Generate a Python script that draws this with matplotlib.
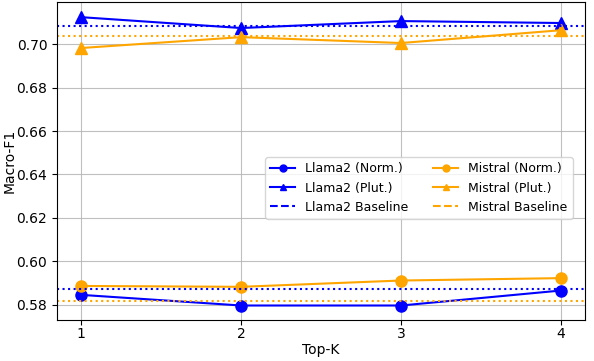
import matplotlib
matplotlib.use("Agg")
import matplotlib.pyplot as plt
from matplotlib.lines import Line2D

top_k = [1, 2, 3, 4]
llama_norm = [0.5846, 0.5797, 0.5797, 0.5866]
llama_plut = [0.7124, 0.7074, 0.7106, 0.7097]
mistral_norm = [0.5887, 0.5883, 0.5912, 0.5923]
mistral_plut = [0.6982, 0.7032, 0.7005, 0.7064]
llama_base = [0.5872, 0.7083]
mistral_base = [0.5820, 0.7037]

fig = plt.figure(figsize=(5.94, 3.61), dpi=100)
ax = fig.add_axes([0.096, 0.114, 0.889, 0.880])

ax.plot(top_k, llama_norm, color="blue", marker="o", markersize=8, linewidth=1.5)
ax.plot(top_k, llama_plut, color="blue", marker="^", markersize=8, linewidth=1.5)
ax.plot(top_k, mistral_norm, color="orange", marker="o", markersize=8, linewidth=1.5)
ax.plot(top_k, mistral_plut, color="orange", marker="^", markersize=8, linewidth=1.5)
for v in llama_base:
    ax.axhline(v, color="blue", linestyle=":", linewidth=1.5)
for v in mistral_base:
    ax.axhline(v, color="orange", linestyle=":", linewidth=1.5)

ax.set_xticks(top_k)
ax.set_yticks([0.58, 0.60, 0.62, 0.64, 0.66, 0.68, 0.70])
ax.set_ylim(0.5731, 0.7193)
ax.set_xlim(0.85, 4.15)
ax.tick_params(labelsize=10)
ax.tick_params(axis="x", pad=2)
ax.set_xlabel("Top-K", fontsize=10, labelpad=1)
ax.set_ylabel("Macro-F1", fontsize=10, labelpad=0)
ax.grid(True, color="#b0b0b0", linewidth=0.8, alpha=0.8)

handles = [
    Line2D([], [], color="blue", marker="o", markersize=5, linewidth=1.5),
    Line2D([], [], color="blue", marker="^", markersize=5, linewidth=1.5),
    Line2D([], [], color="blue", linestyle="--", linewidth=1.5),
    Line2D([], [], color="orange", marker="o", markersize=5, linewidth=1.5),
    Line2D([], [], color="orange", marker="^", markersize=5, linewidth=1.5),
    Line2D([], [], color="orange", linestyle="--", linewidth=1.5),
]
labels = ["Llama2 (Norm.)", "Llama2 (Plut.)", "Llama2 Baseline",
          "Mistral (Norm.)", "Mistral (Plut.)", "Mistral Baseline"]
ax.legend(handles, labels, ncol=2, fontsize=9, loc="center right",
          bbox_to_anchor=(0.988, 0.415), handlelength=2.0)

fig.savefig("out.png", dpi=100)
